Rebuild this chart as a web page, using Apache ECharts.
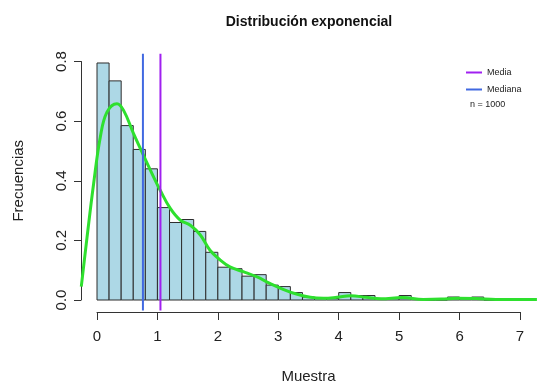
<!DOCTYPE html>
<html>
<head>
<meta charset="utf-8">
<script src="https://cdn.jsdelivr.net/npm/echarts@6/dist/echarts.min.js"></script>
<style>
html,body{margin:0;padding:0;background:#fff;}
#c{width:537px;height:385px;}
</style>
</head>
<body>
<div id="c"></div>
<script>
// ---- data ----
const binStarts = [0,0.2,0.4,0.6,0.8,1.0,1.2,1.4,1.6,1.8,2.0,2.2,2.4,2.6,2.8,3.0,3.2,3.4,3.6,3.8,4.0,4.2,4.4,4.6,4.8,5.0,5.2,5.4,5.6,5.8,6.0,6.2,6.4,6.6,6.8];
const binDensity = [0.795,0.735,0.585,0.505,0.44,0.31,0.26,0.27,0.23,0.16,0.11,0.105,0.08,0.085,0.05,0.045,0.025,0.01,0.005,0.005,0.025,0.015,0.015,0.005,0.005,0.015,0.005,0,0,0.01,0.005,0.01,0,0,0.005];
const binWidth = 0.2;
const densityX = [-0.26,-0.165,-0.056,0.055,0.165,0.33,0.44,0.605,0.77,0.936,1.046,1.21,1.377,1.55,1.71,1.87,2.04,2.2,2.42,2.64,2.86,3.08,3.3,3.53,3.75,3.97,4.2,4.45,4.7,5.05,5.4,5.7,5.95,6.28,6.6,7.0,7.28];
const densityY = [0.045,0.21,0.39,0.547,0.63,0.658,0.636,0.558,0.485,0.413,0.368,0.308,0.268,0.25,0.218,0.167,0.134,0.111,0.095,0.078,0.056,0.036,0.02,0.009,0.006,0.009,0.014,0.009,0.004,0.008,0.002,0.003,0.006,0.005,0.002,0.002,0.002];
const mediaValue = 1.05;
const medianaValue = 0.76;
const sampleSize = 1000;
const xTicks = [0,1,2,3,4,5,6,7];
const yTicks = ['0.0','0.2','0.4','0.6','0.8'];

const FONT = 'Liberation Sans, Arial, sans-serif';
const chart = echarts.init(document.getElementById('c'), null, {renderer:'canvas'});

// plot region (R "usr") limits, in data units
const usrXMin = -0.2648, usrXMax = 7.2813;
const lineTop = 0.826, lineBottom = -0.035;

chart.setOption({
  animation: false,
  backgroundColor: '#ffffff',
  title: [
    {text: 'Distribución exponencial', left: 304, top: 10, textAlign: 'center',
     textStyle: {fontFamily: FONT, fontSize: 14, fontWeight: 'bold', color: '#111'}},
    {text: 'n = ' + sampleSize, left: 465, top: 95,
     textStyle: {fontFamily: FONT, fontSize: 9, fontWeight: 'normal', color: '#222'}}
  ],
  legend: {
    orient: 'vertical', left: 461, top: 62, itemWidth: 16, itemHeight: 2, itemGap: 6,
    icon: 'rect',
    data: ['Media', 'Mediana'],
    textStyle: {fontFamily: FONT, fontSize: 9, color: '#222', lineHeight: 11}
  },
  grid: [
    {left: 81, right: 0, top: 61.5, bottom: 85, containLabel: false, outerBoundsMode: 'none'},
    {left: 97, right: 17, top: 61.5, bottom: 85, containLabel: false, outerBoundsMode: 'none'}
  ],
  xAxis: [
    {gridIndex: 0, type: 'value', min: usrXMin, max: usrXMax, show: false, splitLine: {show: false}},
    {
      gridIndex: 1, type: 'value', position: 'bottom', min: 0, max: 7, interval: 1, offset: 12,
      name: 'Muestra', nameLocation: 'middle', nameGap: 57,
      nameTextStyle: {fontFamily: FONT, fontSize: 15, color: '#222'},
      axisLine: {show: true, onZero: false, lineStyle: {color: '#333', width: 1}},
      axisTick: {show: true, length: 8, lineStyle: {color: '#333'}},
      axisLabel: {fontFamily: FONT, fontSize: 15, color: '#222', margin: 17,
        formatter: v => xTicks.indexOf(v) >= 0 ? String(v) : ''},
      splitLine: {show: false}
    }
  ],
  yAxis: [
    {
      gridIndex: 0, type: 'value', min: 0, max: 0.8, interval: 0.2,
      name: 'Frecuencias', nameLocation: 'middle', nameGap: 55,
      nameTextStyle: {fontFamily: FONT, fontSize: 15, color: '#222'},
      axisLine: {show: true, onZero: false, lineStyle: {color: '#333', width: 1}},
      axisTick: {show: true, length: 7, lineStyle: {color: '#333'}},
      axisLabel: {fontFamily: FONT, fontSize: 15, color: '#222', rotate: 90, margin: 12,
        formatter: v => yTicks[Math.round(v / 0.2)]},
      splitLine: {show: false}
    },
    {gridIndex: 1, type: 'value', min: 0, max: 0.8, show: false, splitLine: {show: false}}
  ],
  series: [
    {
      type: 'custom', name: 'hist', xAxisIndex: 0, yAxisIndex: 0,
      data: binStarts.map((s, i) => [s, binDensity[i]]),
      renderItem: function (params, api) {
        const x0 = api.value(0), h = api.value(1);
        const p0 = api.coord([x0, 0]);
        const p1 = api.coord([x0 + binWidth, h]);
        return {
          type: 'rect',
          shape: {x: p0[0], y: p1[1], width: p1[0] - p0[0], height: p0[1] - p1[1]},
          style: {fill: '#ADD8E6', stroke: '#2d2d2d', lineWidth: 1}
        };
      }
    },
    {
      type: 'line', name: 'densidad', xAxisIndex: 0, yAxisIndex: 0, clip: false, smooth: 0.4, symbol: 'none',
      data: densityX.map((x, i) => [x, densityY[i]]),
      lineStyle: {color: '#2ee02e', width: 3}
    },
    {
      type: 'line', name: 'Mediana', xAxisIndex: 0, yAxisIndex: 0, clip: false, symbol: 'none',
      data: [[medianaValue, lineTop], [medianaValue, lineBottom]],
      lineStyle: {color: '#4169E1', width: 2}, itemStyle: {color: '#4169E1'}
    },
    {
      type: 'line', name: 'Media', xAxisIndex: 0, yAxisIndex: 0, clip: false, symbol: 'none',
      data: [[mediaValue, lineTop], [mediaValue, lineBottom]],
      lineStyle: {color: '#A020F0', width: 2}, itemStyle: {color: '#A020F0'}
    }
  ]
});
</script>
</body>
</html>
